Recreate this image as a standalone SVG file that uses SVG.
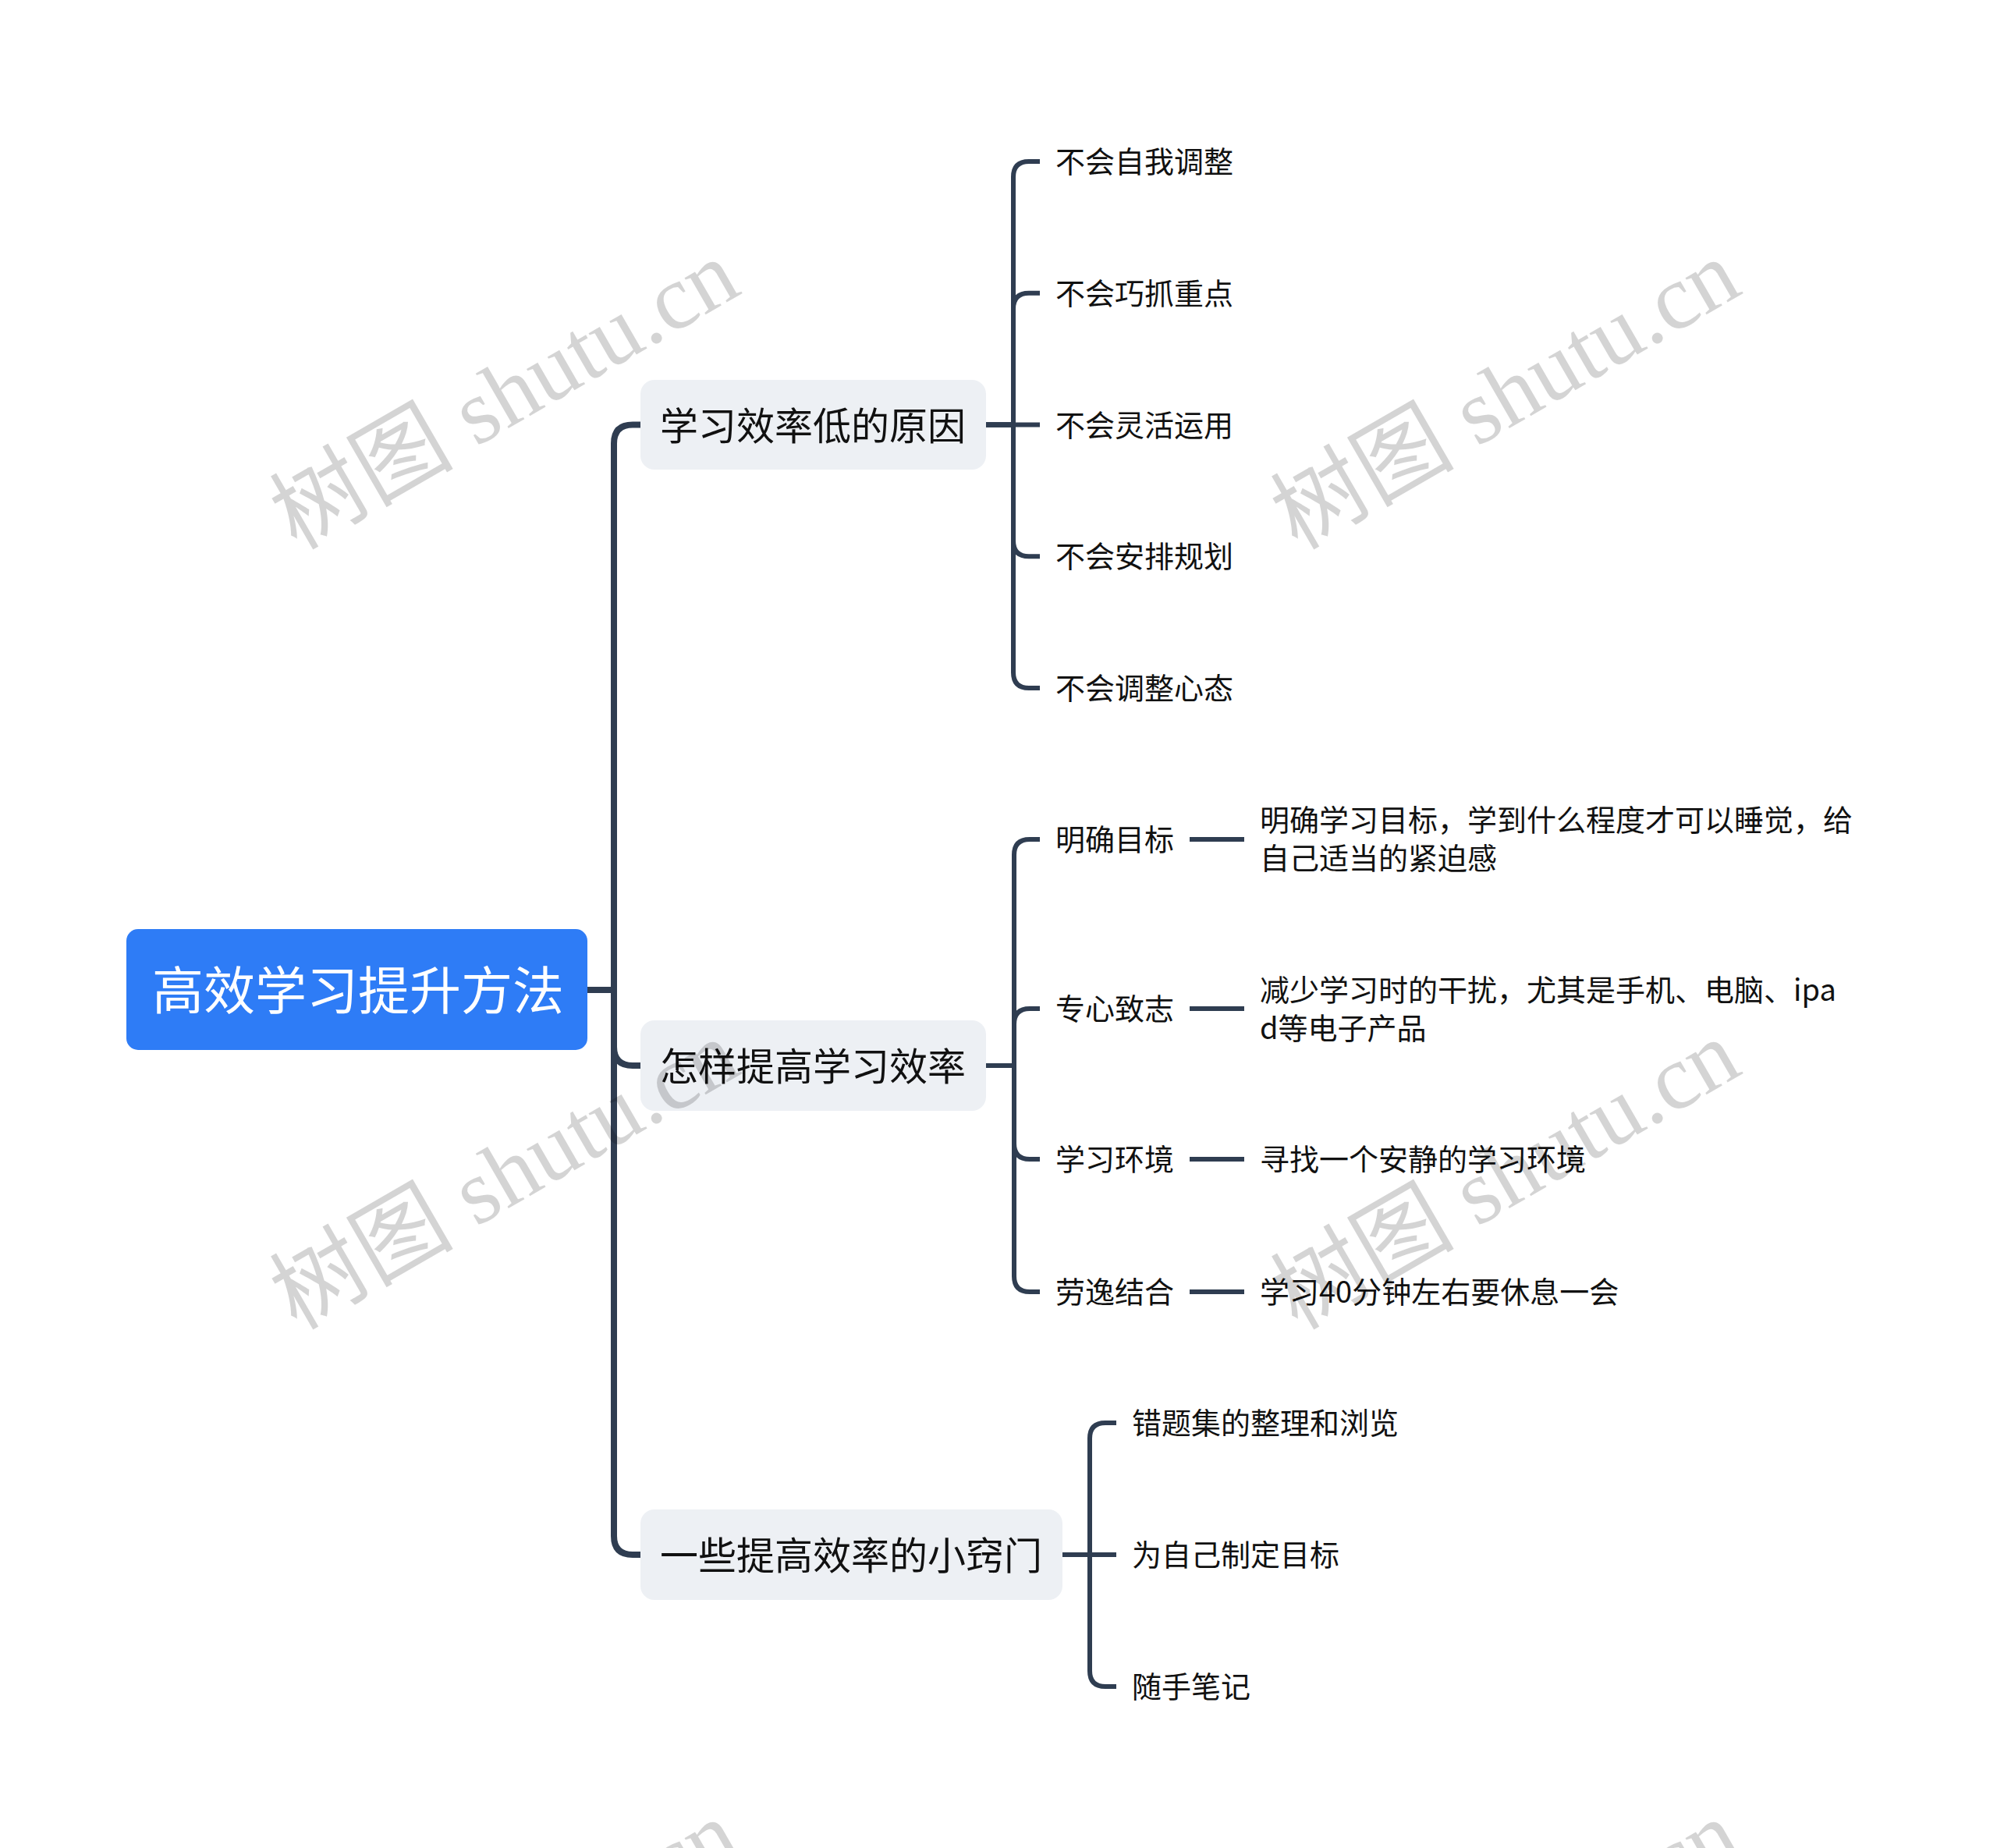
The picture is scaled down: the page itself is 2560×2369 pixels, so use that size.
<svg xmlns="http://www.w3.org/2000/svg" width="2560" height="2369" viewBox="0 0 2560 2369">
<style>
text{font-family:"Noto Sans CJK SC","Noto Sans",sans-serif;dominant-baseline:central}
.root-box{fill:#2e7cf6}
.root-t{fill:#ffffff;font-size:66px}
.l1-box{fill:#edf0f4}
.l1-t{fill:#111111;font-size:49px}
.l2-t{fill:#111111;font-size:38px}
.c0{fill:none;stroke:#2f3d51;stroke-width:8}
.c1{fill:none;stroke:#2f3d51;stroke-width:6}
.wm{font-family:"Liberation Serif","Noto Sans CJK SC",serif;font-size:118px;fill:#000000;fill-opacity:0.17;dominant-baseline:alphabetic}
</style>
<rect width="2560" height="2369" fill="#ffffff"/>
<g id="connectors">
<path class="c0" d="M753,1269 H787 V568.5 Q787,544.5 811,544.5 H821"/>
<path class="c0" d="M753,1269 H787 V1342 Q787,1366 811,1366 H821"/>
<path class="c0" d="M753,1269 H787 V1969 Q787,1993 811,1993 H821"/>
<path class="c1" d="M1264,544.5 H1299 V227 Q1299,207 1319,207 H1333"/>
<path class="c1" d="M1264,544.5 H1299 V395.75 Q1299,375.75 1319,375.75 H1333"/>
<path class="c1" d="M1264,544.5 H1333"/>
<path class="c1" d="M1264,544.5 H1299 V693.25 Q1299,713.25 1319,713.25 H1333"/>
<path class="c1" d="M1264,544.5 H1299 V862 Q1299,882 1319,882 H1333"/>
<path class="c1" d="M1264,1366 H1300 V1096 Q1300,1076 1320,1076 H1333"/>
<path class="c1" d="M1264,1366 H1300 V1313 Q1300,1293 1320,1293 H1333"/>
<path class="c1" d="M1264,1366 H1300 V1466 Q1300,1486 1320,1486 H1333"/>
<path class="c1" d="M1264,1366 H1300 V1636 Q1300,1656 1320,1656 H1333"/>
<path class="c1" d="M1525,1076 H1595"/>
<path class="c1" d="M1525,1293 H1595"/>
<path class="c1" d="M1525,1486 H1595"/>
<path class="c1" d="M1525,1656 H1595"/>
<path class="c1" d="M1362,1993 H1397 V1844 Q1397,1824 1417,1824 H1431"/>
<path class="c1" d="M1362,1993 H1431"/>
<path class="c1" d="M1362,1993 H1397 V2142 Q1397,2162 1417,2162 H1431"/>
</g>
<g id="root">
<rect class="root-box" x="162" y="1191" width="591" height="155" rx="15"/>
<text class="root-t" x="195" y="1265">高效学习提升方法</text>
</g>
<g id="n1">
<rect class="l1-box" x="821" y="487" width="443" height="115" rx="18"/>
<text class="l1-t" x="846" y="542">学习效率低的原因</text>
</g>
<g id="n2">
<rect class="l1-box" x="821" y="1308" width="443" height="116" rx="18"/>
<text class="l1-t" x="846" y="1363">怎样提高学习效率</text>
</g>
<g id="n3">
<rect class="l1-box" x="821" y="1935" width="541" height="116" rx="18"/>
<text class="l1-t" x="846" y="1990">一些提高效率的小窍门</text>
</g>
<g id="n1-1"><text class="l2-t" x="1353" y="204">不会自我调整</text></g>
<g id="n1-2"><text class="l2-t" x="1353" y="373">不会巧抓重点</text></g>
<g id="n1-3"><text class="l2-t" x="1353" y="542">不会灵活运用</text></g>
<g id="n1-4"><text class="l2-t" x="1353" y="710">不会安排规划</text></g>
<g id="n1-5"><text class="l2-t" x="1353" y="879">不会调整心态</text></g>
<g id="n2-1"><text class="l2-t" x="1353" y="1073">明确目标</text></g>
<g id="n2-1-1"><text class="l2-t" x="1615" y="1048">明确学习目标，学到什么程度才可以睡觉，给</text><text class="l2-t" x="1615" y="1097">自己适当的紧迫感</text></g>
<g id="n2-2"><text class="l2-t" x="1353" y="1290">专心致志</text></g>
<g id="n2-2-1"><text class="l2-t" x="1615" y="1266">减少学习时的干扰，尤其是手机、电脑、ipa</text><text class="l2-t" x="1615" y="1315">d等电子产品</text></g>
<g id="n2-3"><text class="l2-t" x="1353" y="1483">学习环境</text></g>
<g id="n2-3-1"><text class="l2-t" x="1615" y="1483">寻找一个安静的学习环境</text></g>
<g id="n2-4"><text class="l2-t" x="1353" y="1653">劳逸结合</text></g>
<g id="n2-4-1"><text class="l2-t" x="1615" y="1653">学习40分钟左右要休息一会</text></g>
<g id="n3-1"><text class="l2-t" x="1451" y="1821">错题集的整理和浏览</text></g>
<g id="n3-2"><text class="l2-t" x="1451" y="1990">为自己制定目标</text></g>
<g id="n3-3"><text class="l2-t" x="1451" y="2159">随手笔记</text></g>
<g id="watermarks">
<text class="wm" transform="translate(380,706) rotate(-30)">树图 shutu.cn</text>
<text class="wm" transform="translate(1663,706) rotate(-30)">树图 shutu.cn</text>
<text class="wm" transform="translate(380,1706) rotate(-30)">树图 shutu.cn</text>
<text class="wm" transform="translate(1663,1706) rotate(-30)">树图 shutu.cn</text>
<text class="wm" transform="translate(380,2706) rotate(-30)">树图 shutu.cn</text>
<text class="wm" transform="translate(1663,2706) rotate(-30)">树图 shutu.cn</text>
</g>
</svg>
